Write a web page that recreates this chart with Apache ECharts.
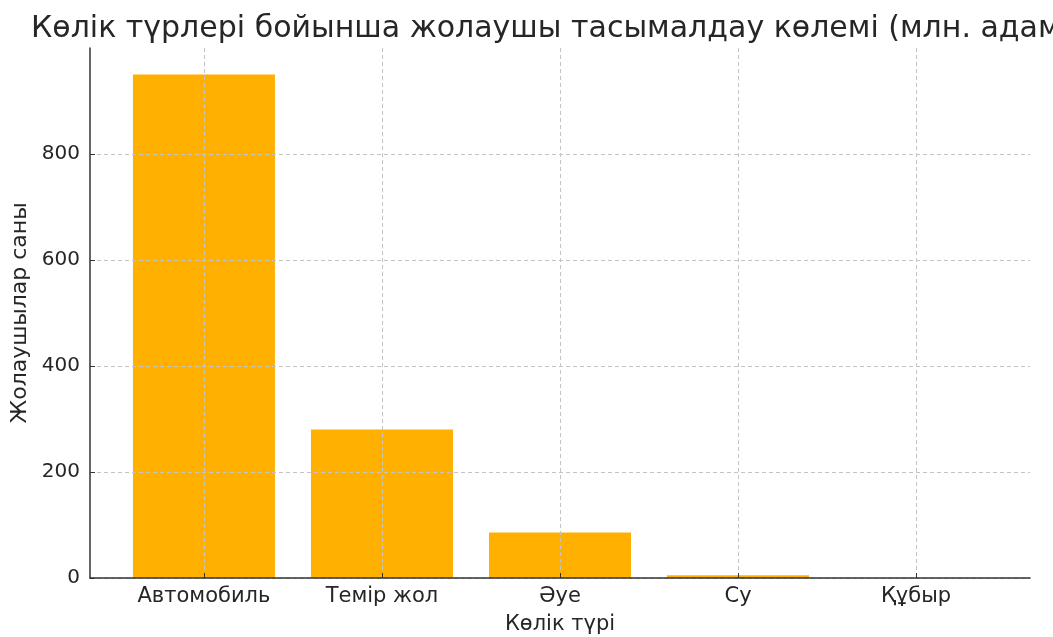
<!DOCTYPE html>
<html>
<head>
<meta charset="utf-8">
<script src="https://cdn.jsdelivr.net/npm/echarts@6/dist/echarts.min.js"></script>
<style>
  html, body { margin: 0; padding: 0; background: #fff; }
  #chart { width: 1053px; height: 637px; }
</style>
</head>
<body>
<div id="chart"></div>
<script>
// Көлік түрлері және жолаушылар саны (млн. адам)
const categories = ['Автомобиль', 'Темір жол', 'Әуе', 'Су', 'Құбыр']
const passengers = [950, 280, 86, 5, 0]
const yTicks = [0, 200, 400, 600, 800]

const font = 'DejaVu Sans'
const textColor = '#262626'
const gridLine = { show: true, lineStyle: { color: '#c4c4c4', type: [4, 3], width: 1 } }

const chart = echarts.init(document.getElementById('chart'))

chart.setOption({
  animation: false,
  backgroundColor: '#fff',
  textStyle: { fontFamily: font },
  title: {
    text: 'Көлік түрлері бойынша жолаушы тасымалдау көлемі (млн. адам)',
    left: 26,
    top: 9,
    textStyle: { fontFamily: font, fontSize: 30, fontWeight: 'normal', color: textColor }
  },
  grid: { left: 90, right: 23, top: 48, bottom: 59, outerBoundsMode: 'none', containLabel: false },
  xAxis: {
    type: 'value',
    min: -0.64,
    max: 4.64,
    z: 3,
    name: 'Көлік түрі',
    nameLocation: 'middle',
    nameGap: 36,
    nameTextStyle: { fontSize: 21, color: textColor, fontFamily: font },
    axisLine: { show: true, onZero: false, lineStyle: { color: '#333', width: 1.5 } },
    axisTick: { show: true, inside: true, length: 5, customValues: [0, 1, 2, 3, 4], lineStyle: { color: '#333' } },
    axisLabel: {
      customValues: [0, 1, 2, 3, 4],
      margin: 8,
      fontSize: 21,
      color: textColor,
      formatter: v => categories[Math.round(v)]
    },
    splitLine: gridLine
  },
  yAxis: {
    type: 'value',
    min: 0,
    max: 1000,
    z: 3,
    name: 'Жолаушылар саны',
    nameLocation: 'middle',
    nameGap: 58,
    nameTextStyle: { fontSize: 22, color: textColor, fontFamily: font },
    axisLine: { show: true, onZero: false, lineStyle: { color: '#333', width: 1.5 } },
    axisTick: { show: true, inside: true, length: 5, customValues: yTicks, lineStyle: { color: '#333' } },
    axisLabel: { customValues: yTicks, margin: 10, fontSize: 20, color: textColor },
    splitLine: gridLine
  },
  series: [{
    type: 'bar',
    barWidth: 142,
    itemStyle: { color: '#ffb000' },
    data: passengers.map((v, i) => [i, v])
  }]
})
</script>
</body>
</html>
